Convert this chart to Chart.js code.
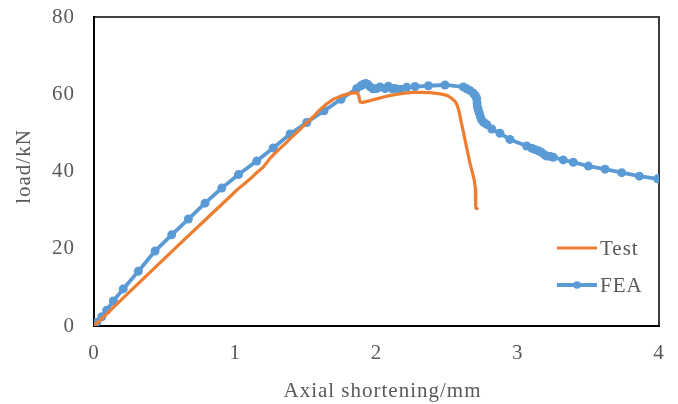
<!DOCTYPE html>
<html>
<head>
<meta charset="utf-8">
<script src="https://cdn.jsdelivr.net/npm/chart.js@4/dist/chart.umd.min.js"></script>
<style>
  html, body { margin: 0; padding: 0; background: #fff; }
  canvas { display: block; }
</style>
</head>
<body>
<canvas id="chart" width="678" height="404"></canvas>
<script>
// Axis ticks
const xTicks = [0, 1, 2, 3, 4];
const yTicks = [0, 20, 40, 60, 80];

// Axis titles and series names
const xTitle = 'Axial shortening/mm';
const yTitle = 'load/kN';
const seriesNames = ['Test', 'FEA'];

// Test: load vs. axial shortening
const testX = [0, 0.05, 0.2, 0.4, 0.6, 0.8, 0.96, 1.01, 1.05, 1.10, 1.15, 1.20, 1.25, 1.30, 1.35, 1.40,
  1.45, 1.50, 1.55, 1.60, 1.65, 1.70, 1.76, 1.82, 1.865, 1.875, 1.883, 1.90, 1.95, 2.00, 2.05, 2.10,
  2.15, 2.20, 2.26, 2.32, 2.38, 2.45, 2.50, 2.53, 2.555, 2.57, 2.585, 2.60, 2.627, 2.645, 2.662, 2.68,
  2.692, 2.70, 2.704, 2.702, 2.702, 2.712];
const testY = [0, 1.7, 7.0, 14.0, 21.0, 27.9, 33.4, 35.2, 36.4, 37.9, 39.6, 41.2, 43.6, 45.4, 47.1, 48.9,
  50.6, 52.4, 54.1, 56.0, 57.6, 58.8, 59.7, 60.3, 60.4, 59.5, 58.0, 57.9, 58.3, 58.8, 59.3, 59.7,
  60.0, 60.3, 60.5, 60.5, 60.4, 60.1, 59.7, 59.0, 58.2, 57.3, 55.5, 52.8, 48.2, 45.0, 42.1, 39.6,
  37.8, 35.5, 33.5, 31.5, 30.5, 30.4];

// FEA: load vs. axial shortening
const feaX = [0, 0.02, 0.055, 0.09, 0.137, 0.207, 0.314, 0.432, 0.55, 0.668, 0.786, 0.904, 1.023, 1.152,
  1.269, 1.388, 1.506, 1.628, 1.749, 1.86, 1.89, 1.907, 1.925, 1.94, 1.955, 1.975, 2.0, 2.025, 2.06,
  2.084, 2.11, 2.131, 2.17, 2.214, 2.273, 2.367, 2.485, 2.615, 2.639, 2.66, 2.685, 2.70, 2.709, 2.712,
  2.714, 2.72, 2.728, 2.735, 2.745, 2.76, 2.78, 2.816, 2.874, 2.945, 3.063, 3.10, 3.122, 3.15, 3.17,
  3.19, 3.205, 3.23, 3.252, 3.322, 3.393, 3.50, 3.618, 3.736, 3.861, 3.99];
const feaY = [0, 1.0, 2.4, 4.1, 6.5, 9.6, 14.2, 19.4, 23.6, 27.7, 31.8, 35.7, 39.2, 42.7,
  46.1, 49.7, 52.7, 55.7, 58.7, 61.5, 62.2, 62.6, 62.8, 62.5, 61.9, 61.4, 61.5, 61.9, 61.5,
  62.1, 61.4, 61.5, 61.3, 61.8, 62.0, 62.2, 62.4, 61.9, 61.4, 61.0, 60.3, 59.6, 58.9, 57.8,
  56.8, 56.0, 55.1, 54.2, 53.3, 52.7, 52.2, 51.0, 49.9, 48.3, 46.6, 46.0, 45.7, 45.3, 44.9,
  44.3, 44.0, 43.9, 43.7, 43.0, 42.4, 41.4, 40.6, 39.7, 38.8, 38.1];

const toPoints = (xs, ys) => xs.map((x, i) => ({ x, y: ys[i] }));

const ORANGE = '#ED7D31';
const BLUE = '#5B9BD5';
const TEXT = '#595959';
const FONT_FAMILY = '"Liberation Serif", "Times New Roman", Times, serif';
const FONT_SIZE = 21;

// Plot frame: black left/bottom/top edges, dark grey right edge
const framePlugin = {
  id: 'frame',
  beforeDatasetsDraw(chart) {
    const { ctx, chartArea: a } = chart;
    ctx.save();
    ctx.lineCap = 'square';
    ctx.strokeStyle = '#000';
    ctx.lineWidth = 1.5;
    ctx.beginPath();
    ctx.moveTo(a.left, a.top);
    ctx.lineTo(a.right, a.top);
    ctx.stroke();
    ctx.strokeStyle = '#3c3c3c';
    ctx.lineWidth = 2;
    ctx.beginPath();
    ctx.moveTo(a.right, a.top);
    ctx.lineTo(a.right, a.bottom);
    ctx.stroke();
    ctx.strokeStyle = '#000';
    ctx.lineWidth = 2;
    ctx.beginPath();
    ctx.moveTo(a.left, a.top);
    ctx.lineTo(a.left, a.bottom);
    ctx.lineTo(a.right, a.bottom);
    ctx.stroke();
    ctx.restore();
  }
};

// Text spacing for all labels
const spacingPlugin = {
  id: 'spacing',
  beforeDraw(chart) { chart.ctx.letterSpacing = '1px'; }
};

// Axis titles
const titlesPlugin = {
  id: 'axisTitles',
  afterDraw(chart) {
    const { ctx, chartArea: a } = chart;
    ctx.save();
    ctx.fillStyle = TEXT;
    ctx.font = FONT_SIZE + 'px ' + FONT_FAMILY;
    ctx.textAlign = 'center';
    ctx.textBaseline = 'middle';
    ctx.fillText(xTitle, (a.left + a.right) / 2 + 6, 391);
    ctx.translate(24.5, (a.top + a.bottom) / 2 - 5);
    ctx.rotate(-Math.PI / 2);
    ctx.fillText(yTitle, 0, 0);
    ctx.restore();
  }
};

// Legend inside the plot, lower right
const legendPlugin = {
  id: 'insideLegend',
  afterDatasetsDraw(chart) {
    const { ctx } = chart;
    const rows = [248, 285];
    ctx.save();
    chart.data.datasets.forEach((ds, i) => {
      const y = rows[i];
      ctx.strokeStyle = ds.borderColor;
      ctx.lineWidth = ds.borderWidth;
      ctx.beginPath();
      ctx.moveTo(557, y);
      ctx.lineTo(597, y);
      ctx.stroke();
      if (ds.pointRadius > 0) {
        ctx.fillStyle = ds.pointBackgroundColor;
        ctx.beginPath();
        ctx.arc(577, y, 3.8, 0, Math.PI * 2);
        ctx.fill();
      }
      ctx.fillStyle = TEXT;
      ctx.font = FONT_SIZE + 'px ' + FONT_FAMILY;
      ctx.textAlign = 'left';
      ctx.textBaseline = 'middle';
      ctx.fillText(ds.label, 600, y + 1.5);
    });
    ctx.restore();
  }
};

new Chart(document.getElementById('chart'), {
  type: 'scatter',
  data: {
    datasets: [
      {
        label: seriesNames[0],
        data: toPoints(testX, testY),
        showLine: true,
        borderColor: ORANGE,
        backgroundColor: ORANGE,
        borderWidth: 3.2,
        pointRadius: 0,
        pointHoverRadius: 0,
        tension: 0,
        borderJoinStyle: 'round',
        borderCapStyle: 'round'
      },
      {
        label: seriesNames[1],
        data: toPoints(feaX, feaY),
        showLine: true,
        borderColor: BLUE,
        backgroundColor: BLUE,
        pointBackgroundColor: BLUE,
        pointBorderWidth: 0,
        borderWidth: 3.8,
        pointRadius: 4.5,
        pointHoverRadius: 4.5,
        tension: 0,
        borderJoinStyle: 'round',
        borderCapStyle: 'round'
      }
    ]
  },
  options: {
    responsive: false,
    animation: false,
    devicePixelRatio: 1,
    layout: { padding: { left: 0, right: 19, top: 17, bottom: 0 } },
    plugins: {
      legend: { display: false },
      tooltip: { enabled: false }
    },
    scales: {
      x: {
        type: 'linear',
        min: xTicks[0],
        max: xTicks[xTicks.length - 1],
        afterBuildTicks(axis) { axis.ticks = xTicks.map(v => ({ value: v })); },
        afterFit(axis) {
          axis.height = 78;
          axis.paddingLeft = 0;
          axis.paddingRight = 0;
        },
        grid: { display: false, drawTicks: false },
        border: { display: false },
        ticks: {
          autoSkip: false,
          maxRotation: 0,
          padding: 15,
          color: TEXT,
          font: { family: FONT_FAMILY, size: FONT_SIZE }
        }
      },
      y: {
        type: 'linear',
        min: yTicks[0],
        max: yTicks[yTicks.length - 1],
        afterBuildTicks(axis) { axis.ticks = yTicks.map(v => ({ value: v })); },
        afterFit(axis) {
          axis.width = 94;
          axis.paddingTop = 0;
          axis.paddingBottom = 0;
        },
        grid: { display: false, drawTicks: false },
        border: { display: false },
        ticks: {
          autoSkip: false,
          padding: 19,
          color: TEXT,
          font: { family: FONT_FAMILY, size: FONT_SIZE }
        }
      }
    }
  },
  plugins: [spacingPlugin, framePlugin, legendPlugin, titlesPlugin]
});
</script>
</body>
</html>
